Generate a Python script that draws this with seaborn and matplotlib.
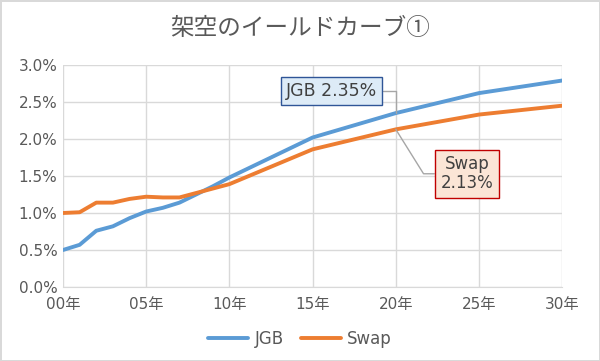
import matplotlib
matplotlib.use("Agg")
import matplotlib.pyplot as plt
import pandas as pd
import seaborn as sns
from matplotlib.ticker import FuncFormatter

years = [0, 1, 2, 3, 4, 5, 6, 7, 8, 9, 10, 15, 20, 25, 30]
jgb = [0.50, 0.57, 0.76, 0.82, 0.93, 1.02, 1.07, 1.14, 1.25, 1.36, 1.48, 2.02, 2.35, 2.62, 2.79]
swap = [1.00, 1.01, 1.14, 1.14, 1.19, 1.22, 1.21, 1.21, 1.27, 1.33, 1.39, 1.86, 2.13, 2.33, 2.45]
series_names = ["JGB", "Swap"]
colors = ["#5B9BD5", "#ED7D31"]
title = "架空のイールドカーブ①"

df = pd.concat([
    pd.DataFrame({"year": years, "rate": jgb, "series": "JGB"}),
    pd.DataFrame({"year": years, "rate": swap, "series": "Swap"}),
])

sns.set_style("white")
plt.rcParams["font.family"] = ["DejaVu Sans", "Noto Sans CJK JP"]
text_col = "#595959"
grid_col = "#D9D9D9"

fig = plt.figure(figsize=(6.0, 3.61), dpi=100)
fig.patch.set_edgecolor(grid_col)
fig.patch.set_linewidth(2)
ax = fig.add_axes([0.105, 0.205, 0.832, 0.615])

sns.lineplot(data=df, x="year", y="rate", hue="series", hue_order=series_names,
             palette=colors, linewidth=2.8, ax=ax, legend=False)

ax.set_xlim(0, 30)
ax.set_ylim(0, 3.0)
ax.set_xticks(range(0, 31, 5))
ax.set_yticks([0, 0.5, 1.0, 1.5, 2.0, 2.5, 3.0])
ax.xaxis.set_major_formatter(FuncFormatter(lambda v, p: f"{int(v):02d}年"))
ax.yaxis.set_major_formatter(FuncFormatter(lambda v, p: f"{v:.1f}%"))
ax.grid(True, color=grid_col, linewidth=1)
ax.set_axisbelow(True)
for s in ["top", "left", "right"]:
    ax.spines[s].set_visible(False)
ax.spines["bottom"].set_color(grid_col)
ax.tick_params(axis="x", colors=text_col, labelsize=11, length=5, color=grid_col, pad=2)
ax.tick_params(axis="y", colors=text_col, labelsize=11, length=0, pad=4)
ax.set_xlabel("")
ax.set_ylabel("")

fig.text(0.5, 0.922, title, ha="center", va="center", fontsize=17,
         color=text_col, family=["Noto Sans CJK JP"])

# data labels at 20y
ax.annotate(f"JGB {jgb[12]:.2f}%", xy=(years[12], jgb[12]), xytext=(16.13, 2.647),
            ha="center", va="center", fontsize=12.5, color="#404040",
            bbox=dict(boxstyle="square,pad=0.3", fc="#DDEBF7", ec="#2F5597", lw=1),
            arrowprops=dict(arrowstyle="-", color="#A6A6A6", lw=1, relpos=(1, 0.5),
                            shrinkA=0, shrinkB=0,
                            connectionstyle="angle,angleA=0,angleB=90,rad=0"))
ax.annotate(f"Swap\n{swap[12]:.2f}%", xy=(years[12], swap[12]), xytext=(24.28, 1.53),
            ha="center", va="center", fontsize=12, color="#404040", linespacing=1.05,
            bbox=dict(boxstyle="square,pad=0.35", fc="#FBE5D6", ec="#C00000", lw=1),
            arrowprops=dict(arrowstyle="-", color="#A6A6A6", lw=1, relpos=(0, 0.5),
                            shrinkA=0, shrinkB=0,
                            connectionstyle="angle,angleA=0,angleB=-58,rad=0"))

handles = [plt.Line2D([], [], color=c, lw=2.8) for c in colors]
fig.legend(handles, series_names, loc="center", bbox_to_anchor=(0.5, 0.062), ncol=2,
           frameon=False, fontsize=12, labelcolor=text_col, handlelength=2.4,
           columnspacing=1.0, handletextpad=0.4)

fig.savefig("out.png", dpi=100)
